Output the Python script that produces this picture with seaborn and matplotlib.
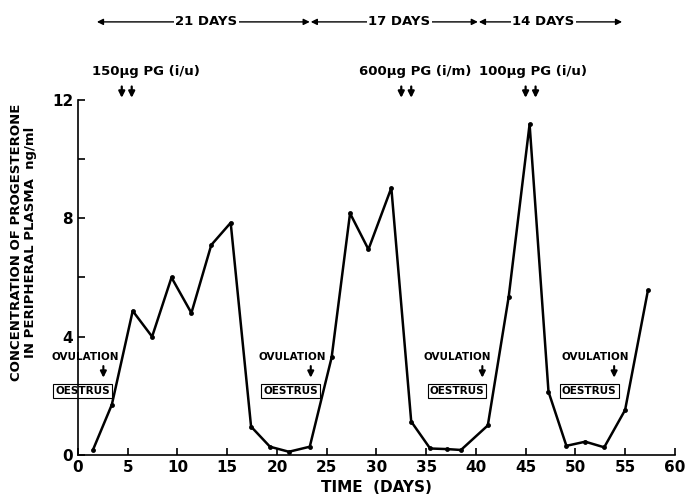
import numpy as np
import pandas as pd
import matplotlib
matplotlib.use("Agg")
import matplotlib.pyplot as plt
import seaborn as sns

# progesterone readings (day, ng/ml)
days = [1.5, 3.4, 5.5, 7.45, 9.4, 11.4, 13.4, 15.35, 17.4, 19.3, 21.2, 23.3, 25.5,
        27.35, 29.2, 31.5, 33.5, 35.4, 37.1, 38.5, 41.2, 43.3, 45.4, 47.3, 49.1,
        51.0, 52.9, 55.0, 57.3]
prog = [0.17, 1.7, 4.87, 4.0, 6.0, 4.8, 7.1, 7.85, 0.96, 0.28, 0.11, 0.28, 3.3,
        8.17, 6.95, 9.03, 1.13, 0.22, 0.2, 0.17, 1.0, 5.35, 11.18, 2.14, 0.31,
        0.45, 0.26, 1.52, 5.57]

# ovulation / oestrus markers
ovulation_text_x = [0.75, 21.55, 38.1, 52.0]
ovulation_arrow_x = [2.55, 23.4, 40.65, 53.9]
oestrus_x = [0.45, 21.4, 38.1, 51.4]

# prostaglandin doses
dose_labels = ['150\u00b5g PG (i/u)', '600\u00b5g PG (i/m)', '100\u00b5g PG (i/u)']
dose_text_x = [6.8, 33.9, 45.7]
dose_arrow_x = [(4.4, 5.4), (32.5, 33.5), (45.0, 46.0)]

# cycle lengths
cycle_labels = ['21 DAYS', '17 DAYS', '14 DAYS']
cycle_start = [1.9, 23.4, 40.3]
cycle_end = [23.3, 40.2, 54.7]
cycle_text_x = [12.9, 32.3, 46.8]

sns.set_style("ticks")
plt.rcParams['font.family'] = ['DejaVu Sans']
plt.rcParams['font.weight'] = 'bold'
for k in ('text.color', 'axes.labelcolor', 'xtick.color', 'ytick.color', 'axes.edgecolor'):
    plt.rcParams[k] = 'black'

df = pd.DataFrame({'day': days, 'progesterone': prog})

fig = plt.figure(figsize=(6.86, 4.97), dpi=100)
ax = fig.add_axes([0.1137, 0.0845, 0.870, 0.7143])

sns.lineplot(data=df, x='day', y='progesterone', ax=ax, color='black',
             linewidth=1.8, marker='o', markersize=3.5, markeredgewidth=0, zorder=3)

ax.set_xlim(0, 60)
ax.set_ylim(0, 12)
ax.set_xticks(np.arange(0, 61, 5))
ax.set_yticks([0, 4, 8, 12])
ax.set_yticks([2, 6, 10], minor=True)
ax.tick_params(direction='in', length=5, width=1.2, labelsize=11)
ax.tick_params(which='minor', direction='in', length=5, width=1.2)
for lab in ax.get_xticklabels() + ax.get_yticklabels():
    lab.set_fontweight('bold')
sns.despine(ax=ax)
ax.spines['left'].set_linewidth(1.2)
ax.spines['bottom'].set_linewidth(1.2)

ax.set_xlabel('TIME  (DAYS)', fontsize=11, fontweight='bold', labelpad=4)
ax.set_ylabel('CONCENTRATION OF PROGESTERONE\nIN PERIPHERAL PLASMA  ng/ml',
              fontsize=9.5, fontweight='bold', linespacing=1.1)
ax.yaxis.set_label_coords(-0.068, 0.6)

for tx, axx, ox in zip(ovulation_text_x, ovulation_arrow_x, oestrus_x):
    ax.text(tx, 3.32, 'OVULATION', ha='center', va='center', fontsize=7.5,
            fontweight='bold', zorder=2)
    ax.annotate('', xy=(axx, 2.52), xytext=(axx, 3.1),
                arrowprops=dict(arrowstyle='-|>', color='black', lw=1.5,
                                mutation_scale=9), zorder=2)
    ax.text(ox, 2.17, 'OESTRUS', ha='center', va='center', fontsize=7.5,
            fontweight='bold', zorder=2,
            bbox=dict(boxstyle='square,pad=0.2', fc='white', ec='black', lw=0.8))

for lab, tx, (a1, a2) in zip(dose_labels, dose_text_x, dose_arrow_x):
    ax.text(tx, 12.95, lab, ha='center', va='center', fontsize=9.5,
            fontweight='bold', clip_on=False)
    for a in (a1, a2):
        ax.annotate('', xy=(a, 11.98), xytext=(a, 12.55), annotation_clip=False,
                    arrowprops=dict(arrowstyle='-|>', color='black', lw=1.6,
                                    mutation_scale=9))

for lab, s, e, tx in zip(cycle_labels, cycle_start, cycle_end, cycle_text_x):
    ax.annotate('', xy=(e, 14.64), xytext=(s, 14.64), annotation_clip=False,
                arrowprops=dict(arrowstyle='<|-|>', color='black', lw=1.0,
                                mutation_scale=9, shrinkA=0, shrinkB=0))
    ax.text(tx, 14.64, lab, ha='center', va='center', fontsize=9.5,
            fontweight='bold', clip_on=False,
            bbox=dict(boxstyle='square,pad=0.1', fc='white', ec='none'))

fig.savefig('out.png', dpi=100)
